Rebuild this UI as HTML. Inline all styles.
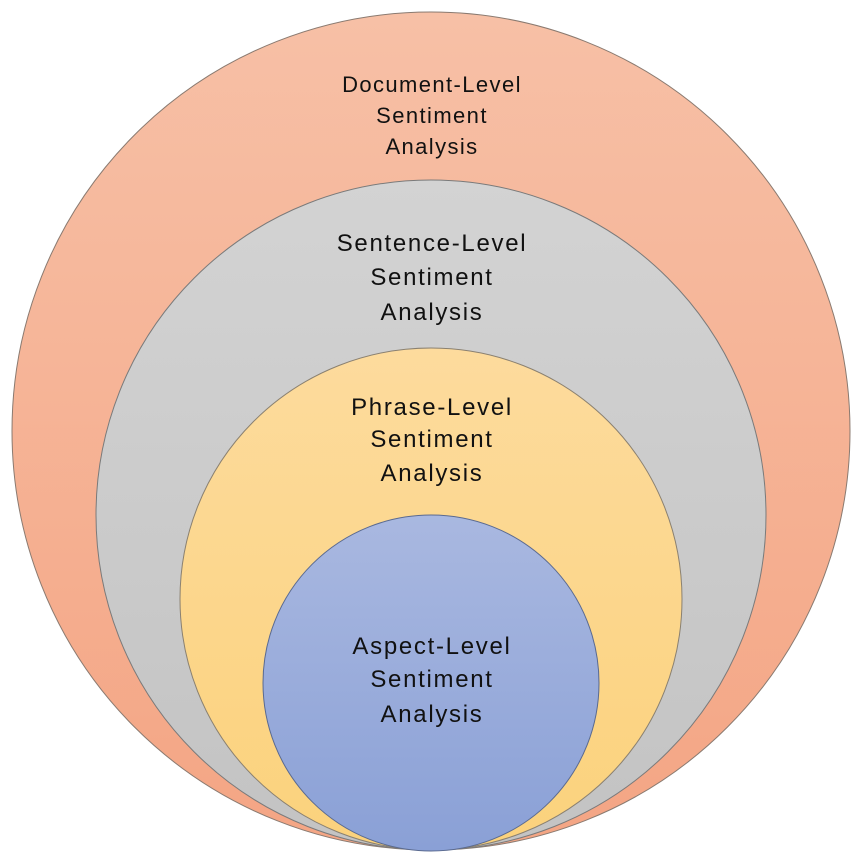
<!DOCTYPE html>
<html><head><meta charset="utf-8"><style>
html,body{margin:0;padding:0;background:#fff;}
svg{display:block}
text{font-family:"Liberation Sans",sans-serif;fill:#111;text-anchor:middle;}
</style></head><body>
<svg width="857" height="857" viewBox="0 0 857 857">
<defs>
<linearGradient id="g1" x1="0" y1="0" x2="0" y2="1"><stop offset="0" stop-color="#f7c0a6"/><stop offset="1" stop-color="#f4a584"/></linearGradient>
<linearGradient id="g2" x1="0" y1="0" x2="0" y2="1"><stop offset="0" stop-color="#d3d3d3"/><stop offset="1" stop-color="#c3c3c3"/></linearGradient>
<linearGradient id="g3" x1="0" y1="0" x2="0" y2="1"><stop offset="0" stop-color="#fddb9d"/><stop offset="1" stop-color="#fbd27c"/></linearGradient>
<linearGradient id="g4" x1="0" y1="0" x2="0" y2="1"><stop offset="0" stop-color="#a9b8e0"/><stop offset="1" stop-color="#8aa0d6"/></linearGradient>
</defs>
<circle cx="431" cy="431" r="419" fill="url(#g1)" stroke="#8a7a70" stroke-width="1"/>
<circle cx="431" cy="515" r="335" fill="url(#g2)" stroke="#7a7a7a" stroke-width="1"/>
<circle cx="431" cy="599" r="251" fill="url(#g3)" stroke="#8a8070" stroke-width="1"/>
<circle cx="431" cy="683" r="168" fill="url(#g4)" stroke="#5a6a90" stroke-width="1"/>
<g font-size="22" letter-spacing="1.4">
<text x="432" y="92">Document-Level</text>
<text x="432" y="123">Sentiment</text>
<text x="432" y="154">Analysis</text>
</g>
<g font-size="24" letter-spacing="1.7">
<text x="432" y="251">Sentence-Level</text>
<text x="432" y="285">Sentiment</text>
<text x="432" y="320">Analysis</text>
<text x="432" y="415">Phrase-Level</text>
<text x="432" y="447">Sentiment</text>
<text x="432" y="481">Analysis</text>
<text x="432" y="654">Aspect-Level</text>
<text x="432" y="687">Sentiment</text>
<text x="432" y="722">Analysis</text>
</g>
</svg>
</body></html>
